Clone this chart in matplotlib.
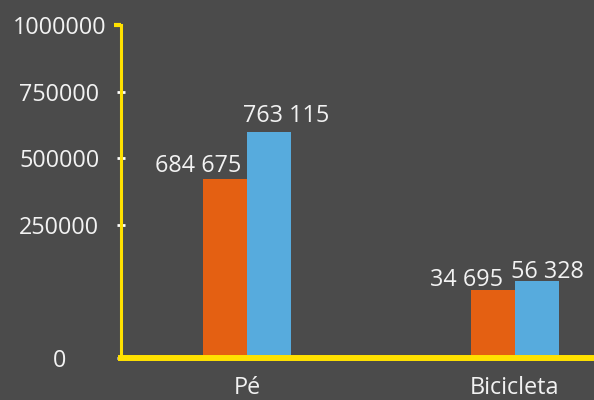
import matplotlib
matplotlib.use("Agg")
import matplotlib.pyplot as plt
from matplotlib.lines import TICKLEFT
import numpy as np

BG = "#4B4B4B"
YELLOW = "#FFE100"
ORANGE = "#E46012"
BLUE = "#57ABDD"
TXT = "#F2F2F2"

categories = ["Pé", "Bicicleta"]
# bar heights as drawn on the axis scale
orange_heights = [420800, 126700]
blue_heights = [597500, 145350]
# the numbers printed above the bars
orange_labels = ["684 675", "34 695"]
blue_labels = ["763 115", "56 328"]
yticks = [0, 250000, 500000, 750000, 1000000]

# per-label nudges (pixels): dx, dy above bar top
ORANGE_OFF = [(-27.5, 7), (-26.5, 4.7)]
BLUE_OFF = [(17.5, 10.7), (10.5, 2.7)]


def fwd(v):
    v = np.asarray(v, dtype=float)
    return np.where(v < 250000, 2 * v - 250000, v)


def inv(t):
    t = np.asarray(t, dtype=float)
    return np.where(t < 250000, (t + 250000) / 2, t)


plt.rcParams["font.family"] = ["Open Sans", "DejaVu Sans"]

fig = plt.figure(figsize=(5.94, 4.0), dpi=100)
fig.patch.set_facecolor(BG)
ax = fig.add_axes([120.5 / 594, 42 / 400, (594 - 120.5) / 594, 333 / 400])
ax.set_facecolor(BG)
ax.set_yscale("function", functions=(fwd, inv))

x = np.arange(len(categories))
w = 0.163
ax.bar(x - w / 2, orange_heights, w, color=ORANGE, zorder=2)
ax.bar(x + w / 2, blue_heights, w, color=BLUE, zorder=2)

px = 72 / fig.dpi
for i in range(len(categories)):
    dx, dy = ORANGE_OFF[i]
    ax.annotate(orange_labels[i], (x[i] - w / 2, orange_heights[i]),
                xytext=(dx * px, dy * px), textcoords="offset points",
                ha="center", va="baseline", fontsize=16.8, color=TXT)
    dx, dy = BLUE_OFF[i]
    ax.annotate(blue_labels[i], (x[i] + w / 2, blue_heights[i]),
                xytext=(dx * px, dy * px), textcoords="offset points",
                ha="center", va="baseline", fontsize=16.8, color=TXT)

ax.set_xlim(-0.472, 1.295)
ax.set_ylim(0, 1000000)
ax.set_xticks(x)
ax.set_xticklabels(categories, fontsize=16.8, color=TXT)
ax.tick_params(axis="x", length=0, pad=13)

ax.set_yticks(yticks)
ax.set_yticklabels([str(t) for t in yticks], fontsize=16.8, color=TXT)
ax.tick_params(axis="y", direction="inout", length=6, width=2, color="white", pad=41)
for lab in ax.get_yticklabels():
    lab.set_horizontalalignment("center")
# top tick: short yellow stub pointing left, like the spine turning
top = ax.yaxis.get_major_ticks()[-1]
top.tick1line.set_marker(TICKLEFT)
top.tick1line.set_markeredgecolor(YELLOW)
top.tick1line.set_markersize(5)
top.tick1line.set_markeredgewidth(3)
top.tick1line.set_zorder(4)

for s in ("top", "right"):
    ax.spines[s].set_visible(False)
ax.spines["left"].set_color(YELLOW)
ax.spines["left"].set_linewidth(2.2)
ax.spines["bottom"].set_color(YELLOW)
ax.spines["bottom"].set_linewidth(4.3)
ax.spines["left"].set_zorder(3)
ax.spines["bottom"].set_zorder(3)

fig.savefig("out.png", facecolor=BG)
